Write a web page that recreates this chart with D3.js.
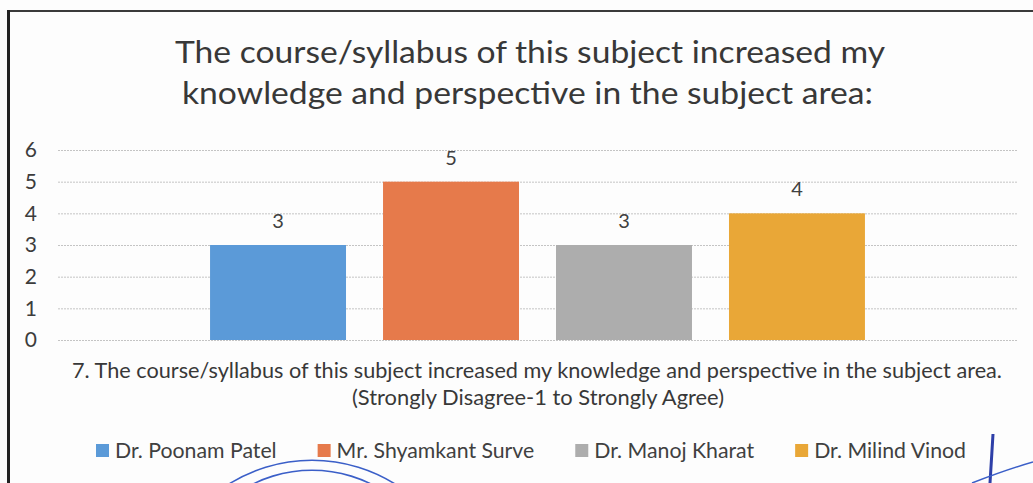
<!DOCTYPE html>
<html>
<head>
<meta charset="UTF-8">
<title>Course feedback chart</title>
<script src="https://cdn.jsdelivr.net/npm/d3@7"></script>
<style>
  html, body { margin: 0; padding: 0; background: #fdfdfd; }
  svg { display: block; font-family: Lato, "Open Sans", sans-serif; }
</style>
</head>
<body>
<div id="chart"></div>
<script>
// chart values
var teachers = ["Dr. Poonam Patel", "Mr. Shyamkant Surve", "Dr. Manoj Kharat", "Dr. Milind Vinod"];
var scores = [3, 5, 3, 4];
var yTicks = [0, 1, 2, 3, 4, 5, 6];
var titleLines = ["The course/syllabus of this subject increased my",
                  "knowledge and perspective in the subject area:"];
var axisLines = ["7. The course/syllabus of this subject increased my knowledge and perspective in the subject area.",
                 "(Strongly Disagree-1 to Strongly Agree)"];

var colors = ["#5b9ad8", "#e67a4b", "#adadad", "#e9a737"];
var textColor = "#404040";

var W = 1033, H = 483;
var plot = { left: 58, right: 1017, top: 150, bottom: 340 };

var svg = d3.select("#chart").append("svg")
    .attr("width", W)
    .attr("height", H);

// squeeze a text element to a given width (scan is a bit condensed)
function fit(sel, w) {
    sel.attr("textLength", w).attr("lengthAdjust", "spacingAndGlyphs");
}

// scan frame
svg.append("line").attr("x1", 8).attr("x2", W).attr("y1", 11).attr("y2", 11)
    .attr("stroke", "#3a3a3a").attr("stroke-width", 2);
svg.append("line").attr("x1", 8.5).attr("x2", 8.5).attr("y1", 10).attr("y2", H)
    .attr("stroke", "#222").attr("stroke-width", 3);

// title
var titleSpans = [[175, 885], [182, 873]];
titleLines.forEach(function (t, i) {
    svg.append("text")
        .attr("x", titleSpans[i][0])
        .attr("y", 63 + i * 41)
        .attr("font-size", 31)
        .attr("fill", "#383838")
        .text(t)
        .call(fit, titleSpans[i][1] - titleSpans[i][0]);
});

// scales
var x = d3.scaleBand()
    .domain(teachers)
    .range([plot.left, plot.right])
    .paddingInner(0.214)
    .paddingOuter(0.879);

var y = d3.scaleLinear()
    .domain([0, 6])
    .range([plot.bottom, plot.top]);

// gridlines
svg.append("g").selectAll("line")
    .data(yTicks)
    .enter().append("line")
    .attr("x1", plot.left).attr("x2", plot.right)
    .attr("y1", function (d) { return y(d) + 0.5; })
    .attr("y2", function (d) { return y(d) + 0.5; })
    .attr("stroke", "#c4c4c4")
    .attr("stroke-dasharray", "2,1");

// y axis labels
var yAxis = svg.append("g")
    .attr("transform", "translate(37,0)")
    .call(d3.axisLeft(y).tickValues(yTicks).tickSize(0).tickPadding(0).tickFormat(d3.format("d")));
yAxis.select(".domain").remove();
yAxis.selectAll("text")
    .attr("font-family", "Lato, sans-serif")
    .attr("font-size", 21)
    .attr("fill", "#3c3c3c");

// bars
svg.append("g").selectAll("rect")
    .data(scores)
    .enter().append("rect")
    .attr("x", function (d, i) { return x(teachers[i]); })
    .attr("y", function (d) { return y(d); })
    .attr("width", x.bandwidth())
    .attr("height", function (d) { return y(0) - y(d); })
    .attr("fill", function (d, i) { return colors[i]; });

// value labels
svg.append("g").selectAll("text")
    .data(scores)
    .enter().append("text")
    .attr("x", function (d, i) { return x(teachers[i]) + x.bandwidth() / 2; })
    .attr("y", function (d) { return y(d) - 17; })
    .attr("text-anchor", "middle")
    .attr("font-size", 20)
    .attr("fill", textColor)
    .text(function (d) { return d; });

// category axis title
var axisSpans = [[72, 1002], [352, 724]];
axisLines.forEach(function (t, i) {
    svg.append("text")
        .attr("x", axisSpans[i][0])
        .attr("y", 378 + i * 27)
        .attr("font-size", 21.5)
        .attr("fill", "#383838")
        .text(t)
        .call(fit, axisSpans[i][1] - axisSpans[i][0]);
});

// legend: laid out left to right, then squeezed to the scanned span
var legendLeft = 96, legendRight = 966, sq = 13, sqGap = 6, itemGap = 41;
var legend = svg.append("g");
var items = legend.selectAll("g")
    .data(teachers)
    .enter().append("g");
items.append("rect")
    .attr("width", sq).attr("height", sq)
    .attr("y", 444)
    .attr("fill", function (d, i) { return colors[i]; });
items.append("text")
    .attr("y", 458)
    .attr("font-size", 21)
    .attr("fill", textColor)
    .text(function (d) { return d; });

var widths = [];
items.select("text").each(function () { widths.push(this.getComputedTextLength()); });
var fixed = teachers.length * (sq + sqGap) + (teachers.length - 1) * itemGap;
var k = (legendRight - legendLeft - fixed) / d3.sum(widths);
var cx = legendLeft;
items.each(function (d, i) {
    var g = d3.select(this);
    g.select("rect").attr("x", cx);
    g.select("text").attr("x", cx + sq + sqGap).call(fit, widths[i] * k);
    cx += sq + sqGap + widths[i] * k + itemGap;
});

// stamp and signature traces at the bottom of the scan
var ink = "#3b5fc8";
[[156, 461], [132, 471]].forEach(function (a) {
    var r = a[0], cy = a[1] + r;
    svg.append("path")
        .attr("d", d3.arc()({ innerRadius: r, outerRadius: r + 1.6, startAngle: -0.6, endAngle: 0.6 }))
        .attr("transform", "translate(312," + cy + ")")
        .attr("fill", ink);
});
svg.append("path")
    .attr("d", "M993,434 C992,450 991,468 990,483")
    .attr("stroke", "#2e3fa8").attr("stroke-width", 3).attr("fill", "none");
svg.append("path")
    .attr("d", "M972,483 C990,476 1012,468 1033,462")
    .attr("stroke", ink).attr("stroke-width", 1.5).attr("fill", "none");
</script>
</body>
</html>
